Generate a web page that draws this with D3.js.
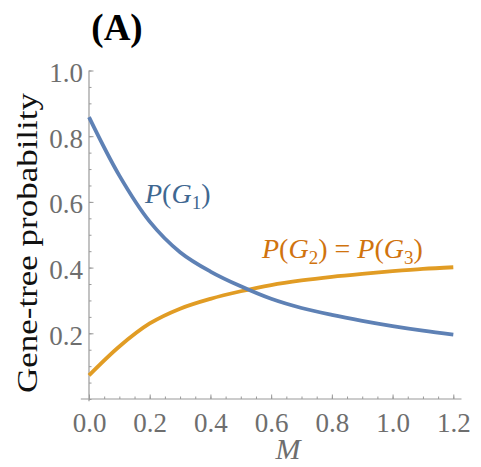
<!DOCTYPE html>
<html>
<head>
<meta charset="utf-8">
<script src="https://cdn.jsdelivr.net/npm/d3@7"></script>
<style>
  body { margin: 0; background: #fff; }
  svg { display: block; }
</style>
</head>
<body>
<div id="chart"></div>
<script>
// values
const migration = [0, 0.1, 0.2, 0.3, 0.4, 0.5, 0.6, 0.7, 0.8, 0.9, 1.0, 1.1, 1.2];
const probG1 = [0.858, 0.680, 0.540, 0.447, 0.388, 0.343, 0.305, 0.277, 0.256, 0.238, 0.222, 0.208, 0.196];
const probG2 = [0.072, 0.160, 0.230, 0.275, 0.305, 0.328, 0.347, 0.361, 0.372, 0.381, 0.389, 0.396, 0.401];
const xTicks = [0, 0.2, 0.4, 0.6, 0.8, 1.0, 1.2];
const yTicks = [0.2, 0.4, 0.6, 0.8, 1.0];

const width = 481, height = 467;
const serif = "'Liberation Serif', 'Times New Roman', serif";

const svg = d3.select("#chart").append("svg")
    .attr("width", width)
    .attr("height", height);

const x = d3.scaleLinear().domain([0, 1.2]).range([89, 453.3]);
const y = d3.scaleLinear().domain([0, 1]).range([399, 70.5]);

const axisColor = "#9a9a9a";
const labelColor = "#6e6e6e";

// axis lines (a bit of padding like Mathematica)
svg.append("line")
    .attr("x1", x(-0.027)).attr("x2", x(1.227))
    .attr("y1", y(0)).attr("y2", y(0))
    .attr("stroke", axisColor).attr("stroke-width", 1.2);
svg.append("line")
    .attr("x1", x(0)).attr("x2", x(0))
    .attr("y1", y(-0.007)).attr("y2", y(1))
    .attr("stroke", axisColor).attr("stroke-width", 1.2);

// minor ticks
const xMinor = d3.range(0, 1.2001, 0.05);
const yMinor = d3.range(0, 1.0001, 0.05);
svg.append("g")
    .attr("transform", `translate(0,${y(0)})`)
    .call(d3.axisBottom(x).tickValues(xMinor).tickSizeInner(-2.5).tickSizeOuter(0).tickFormat(""))
    .call(g => g.select(".domain").remove())
    .call(g => g.selectAll("line").attr("stroke", axisColor));
svg.append("g")
    .attr("transform", `translate(${x(0)},0)`)
    .call(d3.axisLeft(y).tickValues(yMinor).tickSizeInner(-2.5).tickSizeOuter(0).tickFormat(""))
    .call(g => g.select(".domain").remove())
    .call(g => g.selectAll("line").attr("stroke", axisColor));

// major ticks + labels
svg.append("g")
    .attr("transform", `translate(0,${y(0)})`)
    .call(d3.axisBottom(x).tickValues(xTicks).tickSizeInner(-4.5).tickSizeOuter(0).tickPadding(14).tickFormat(d3.format(".1f")))
    .call(g => g.select(".domain").remove())
    .call(g => g.selectAll("line").attr("stroke", axisColor))
    .call(g => g.selectAll("text")
        .attr("fill", labelColor)
        .style("font-family", serif)
        .style("font-size", "27px"));
svg.append("g")
    .attr("transform", `translate(${x(0)},0)`)
    .call(d3.axisLeft(y).tickValues(yTicks).tickSizeInner(-4.5).tickSizeOuter(0).tickPadding(6).tickFormat(d3.format(".1f")))
    .call(g => g.select(".domain").remove())
    .call(g => g.selectAll("line").attr("stroke", axisColor))
    .call(g => g.selectAll("text")
        .attr("fill", labelColor)
        .attr("dy", "0.4em")
        .style("font-family", serif)
        .style("font-size", "27px"));

// curves
const line = d3.line()
    .x((d, i) => x(migration[i]))
    .y(d => y(d))
    .curve(d3.curveCatmullRom.alpha(0.5));

svg.append("path")
    .datum(probG2)
    .attr("d", line)
    .attr("fill", "none")
    .attr("stroke", "#e19c24")
    .attr("stroke-width", 3.8);

svg.append("path")
    .datum(probG1)
    .attr("d", line)
    .attr("fill", "none")
    .attr("stroke", "#5e81b5")
    .attr("stroke-width", 3.8);

// curve labels
const g1Label = svg.append("text")
    .attr("x", 145).attr("y", 203)
    .attr("fill", "#3f6891")
    .style("font-family", serif)
    .style("font-size", "28px");
g1Label.append("tspan").style("font-style", "italic").text("P");
g1Label.append("tspan").text("(");
g1Label.append("tspan").style("font-style", "italic").text("G");
g1Label.append("tspan").attr("dy", 6).style("font-size", "19px").text("1");
g1Label.append("tspan").attr("dy", -6).text(")");

const g2Label = svg.append("text")
    .attr("x", 262).attr("y", 258)
    .attr("fill", "#d0730e")
    .style("font-family", serif)
    .style("font-size", "28px");
g2Label.append("tspan").style("font-style", "italic").text("P");
g2Label.append("tspan").text("(");
g2Label.append("tspan").style("font-style", "italic").text("G");
g2Label.append("tspan").attr("dy", 6).style("font-size", "19px").text("2");
g2Label.append("tspan").attr("dy", -6).text(") = ");
g2Label.append("tspan").style("font-style", "italic").text("P");
g2Label.append("tspan").text("(");
g2Label.append("tspan").style("font-style", "italic").text("G");
g2Label.append("tspan").attr("dy", 6).style("font-size", "19px").text("3");
g2Label.append("tspan").attr("dy", -6).text(")");

// axis titles
svg.append("text")
    .attr("x", 288).attr("y", 459)
    .attr("text-anchor", "middle")
    .attr("fill", labelColor)
    .style("font-family", serif)
    .style("font-style", "italic")
    .style("font-size", "30px")
    .text("M");

svg.append("text")
    .attr("transform", "translate(37,243) rotate(-90)")
    .attr("text-anchor", "middle")
    .attr("fill", "#111")
    .attr("textLength", 300)
    .attr("lengthAdjust", "spacingAndGlyphs")
    .style("font-family", serif)
    .style("font-size", "30px")
    .text("Gene-tree probability");

// panel title
svg.append("text")
    .attr("x", 117).attr("y", 40)
    .attr("text-anchor", "middle")
    .attr("fill", "#000")
    .style("font-family", serif)
    .style("font-weight", "bold")
    .style("font-size", "37px")
    .text("(A)");
</script>
</body>
</html>
